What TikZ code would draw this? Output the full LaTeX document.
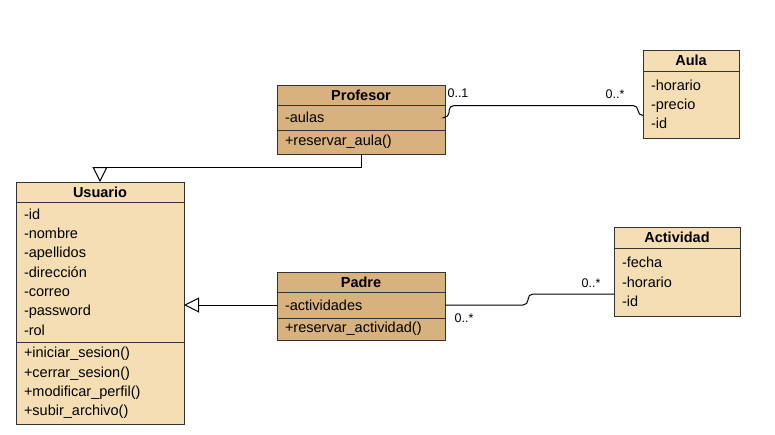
\documentclass[tikz,border=0pt]{standalone}
\usepackage{fontspec}
\setmainfont{Liberation Sans}
\usetikzlibrary{arrows.meta}
\definecolor{darktan}{HTML}{D7B27F}
\definecolor{lighttan}{HTML}{F5DEB3}
\tikzset{
  classhead/.style={draw=black!80, fill=#1, line width=1pt, inner sep=0pt, outer sep=0pt,
    anchor=north west, font=\fontsize{14.5}{19.3}\selectfont\bfseries},
  classbody/.style={draw=black!80, fill=#1, line width=1pt, inner xsep=8pt, inner ysep=0pt,
    outer sep=0pt, anchor=north west, align=left, font=\fontsize{14.5}{19.3}\selectfont},
  mult/.style={font=\fontsize{12.5}{14}\selectfont, inner sep=0pt},
  inherit/.style={-{Triangle[open, length=15pt, width=15pt]}, line width=1pt},
  assoc/.style={line width=1pt, rounded corners=5pt}
}
\begin{document}
\begin{tikzpicture}[x=1pt, y=-1pt]
        \useasboundingbox (0,0) rectangle (775,434);

        \node[classhead=darktan, minimum width=168pt, minimum height=20pt] (P1) at (277,85) {Profesor};
        \node[classbody=darktan, text width=152pt, minimum height=25pt] (P2) at (P1.south west) {-aulas};
        \node[classbody=darktan, text width=152pt, minimum height=24pt] (P3) at (P2.south west) {+reservar\_aula()};

        \node[classhead=lighttan, minimum width=96pt, minimum height=21pt] (A1) at (643,50) {Aula};
        \node[classbody=lighttan, text width=80pt, minimum height=67pt] (A2) at (A1.south west) {-horario\\-precio\\-id};

        \node[classhead=lighttan, minimum width=168pt, minimum height=20pt] (U1) at (16,182) {Usuario};
        \node[classbody=lighttan, text width=152pt, minimum height=140pt] (U2) at (U1.south west) {-id\\-nombre\\-apellidos\\-dirección\\-correo\\-password\\-rol};
        \node[classbody=lighttan, text width=152pt, minimum height=82pt] (U3) at (U2.south west) {+iniciar\_sesion()\\+cerrar\_sesion()\\+modificar\_perfil()\\+subir\_archivo()};

        \node[classhead=darktan, minimum width=168pt, minimum height=20pt] (Pa1) at (277,272) {Padre};
        \node[classbody=darktan, text width=152pt, minimum height=26pt] (Pa2) at (Pa1.south west) {-actividades};
        \node[classbody=darktan, text width=152pt, minimum height=22pt] (Pa3) at (Pa2.south west) {+reservar\_actividad()};

        \node[classhead=lighttan, minimum width=126pt, minimum height=21pt] (Ac1) at (614,227) {Actividad};
        \node[classbody=lighttan, text width=110pt, minimum height=68pt] (Ac2) at (Ac1.south west) {-fecha\\-horario\\-id};

        \draw[inherit] (P3.south) -- ++(0,13) -| (U1.north);
        \draw[inherit] (Pa2.west) -- (U2.east |- Pa2.west);
        \draw[assoc] (P2.east) -- ++(4,0) |- ([xshift=-5pt,yshift=-1pt]A2.west) |- ([yshift=-11pt]A2.west);
        \draw[assoc] (Pa2.east) -- ++(83,0) |- ([yshift=-12pt]Ac2.west);

        \node[mult] (m1) at (458,93) {0..1};
        \node[mult] (m2) at (615,94) {0..*};
        \node[mult] (m3) at (464,318) {0..*};
        \node[mult] (m4) at (591,283) {0..*};
    \end{tikzpicture}
\end{document}
